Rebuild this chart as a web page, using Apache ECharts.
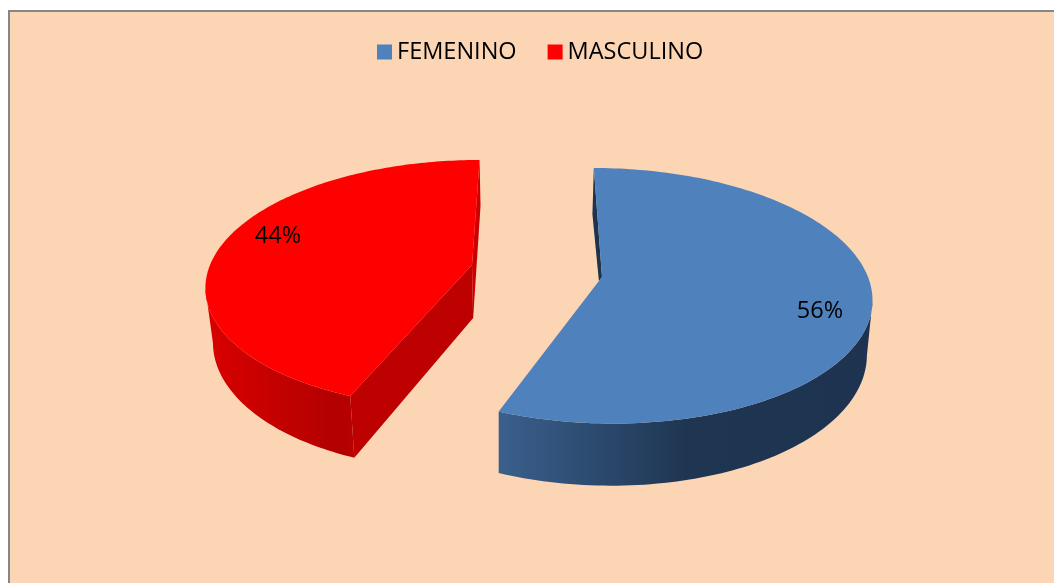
<!DOCTYPE html>
<html>
<head>
<meta charset="utf-8">
<style>html,body{margin:0;padding:0;background:#fff;overflow:hidden}#c{width:1054px;height:583px}</style>
<script src="https://cdn.jsdelivr.net/npm/echarts@6/dist/echarts.min.js"></script>
</head>
<body>
<div id="c"></div>
<script>
const categories = ['FEMENINO', 'MASCULINO'];
const values = [56, 44];
const sliceColors = ['#4f81bd', '#ff0000'];

const chart = echarts.init(document.getElementById('c'), null, {renderer: 'canvas'});
const total = values.reduce((a, b) => a + b, 0);
const FONT = '"Open Sans", sans-serif';

// Perspective-tilted pie view of each exploded slice
const views = [
  {ax: 602, ay: 277, rx: 266, ry: 125, k: 0.147, shear: -0.075, depth: 53, vpX: 500, vpK: 0.015,
   label: [820, 311],
   wall: [[0, '#3a5f8c'], [0.5, '#1f3652'], [1, '#1d3350']], wallRange: [502, 868],
   edge: '#1d3350', edgeEnd: false},
  {ax: 472, ay: 265, rx: 262, ry: 121, k: 0.152, shear: 0.072, depth: 53, vpX: 520, vpK: 0.024,
   label: [278, 236],
   wall: [[0, '#d80000'], [0.85, '#b40000'], [1, '#b80000']], wallRange: [208, 356],
   edge: '#bd0000', edgeEnd: true}
];

function rimPoint(v, a) {
  const s = Math.sin(a), c = Math.cos(a), w = 1 + v.k * c;
  const dy = -v.ry * c / w;
  return [v.ax + v.rx * s / w - v.shear * dy, v.ay + dy];
}
function lower(v, p, a) {
  const w = 1 + v.k * Math.cos(a);
  return [p[0] + (v.vpX - p[0]) * v.vpK, p[1] + v.depth / w];
}
function arcPoints(v, a0, a1) {
  const pts = [], n = 160;
  for (let i = 0; i <= n; i++) {
    const a = a0 + (a1 - a0) * i / n;
    pts.push({a, p: rimPoint(v, a)});
  }
  return pts;
}
function extremeIndex(top, wantMax) {
  let best = 0;
  top.forEach((p, i) => {
    if (wantMax ? p[0] > top[best][0] : p[0] < top[best][0]) best = i;
  });
  return best;
}

function sliceRenderer(index) {
  return function (params, api) {
    const v = views[index];
    const val = api.value(0);
    const before = values.slice(0, index).reduce((a, b) => a + b, 0);
    const a0 = before / total * 2 * Math.PI;
    const a1 = (before + val) / total * 2 * Math.PI;
    const arc = arcPoints(v, a0, a1);
    const top = arc.map(o => o.p);
    const bottom = arc.map(o => lower(v, o.p, o.a));
    const apex = [v.ax, v.ay];
    const apexLow = lower(v, apex, Math.PI / 2);
    const kids = [];

    // visible part of the outer curved wall: rim end to silhouette, closed by the tangent side
    const sil = extremeIndex(top, !v.edgeEnd);
    const from = v.edgeEnd ? 0 : sil;
    const to = v.edgeEnd ? sil : top.length - 1;
    kids.push({type: 'polygon',
      shape: {points: top.slice(from, to + 1).concat(bottom.slice(from, to + 1).reverse())},
      style: {fill: new echarts.graphic.LinearGradient(v.wallRange[0], 0, v.wallRange[1], 0,
        v.wall.map(s => ({offset: s[0], color: s[1]})), true)}});

    if (v.edgeEnd) {
      // both radial walls visible
      kids.push({type: 'polygon', shape: {points: [top[top.length - 1], bottom[bottom.length - 1], apexLow, apex]},
        style: {fill: '#cc0000'}});
      kids.push({type: 'polygon', shape: {points: [apex, top[0], bottom[0], apexLow]},
        style: {fill: v.edge}});
    } else {
      // only a sliver of the start wall shows past the top face
      const e = top[top.length - 1];
      const t = 0.03;
      kids.push({type: 'polygon', shape: {points: [top[0], bottom[0],
        [apex[0] + (e[0] - apex[0]) * t, apex[1] + (e[1] - apex[1]) * t], apex]},
        style: {fill: v.edge}});
    }

    // top face
    kids.push({type: 'polygon', shape: {points: [apex].concat(top)},
      style: {fill: sliceColors[index]}});

    // percentage label
    kids.push({type: 'text', style: {x: v.label[0], y: v.label[1], text: val + '%',
      fill: '#000', font: '23.5px ' + FONT, align: 'center', verticalAlign: 'middle'}});
    return {type: 'group', children: kids};
  };
}

chart.setOption({
  animation: false,
  graphic: [{type: 'rect', z: -10, silent: true,
    shape: {x: 9, y: 11, width: 1100, height: 640},
    style: {fill: '#fcd5b5', stroke: '#868686', lineWidth: 2}}],
  legend: {
    data: categories, left: 377, top: 40, padding: 0, orient: 'horizontal',
    icon: 'rect', itemWidth: 15, itemHeight: 15, itemGap: 31,
    textStyle: {fontFamily: FONT, fontSize: 23.5, color: '#000'}
  },
  series: categories.map((name, i) => ({
    type: 'custom', name, coordinateSystem: 'none', silent: true,
    itemStyle: {color: sliceColors[i]},
    renderItem: sliceRenderer(i),
    data: [[values[i]]]
  }))
});
</script>
</body>
</html>
